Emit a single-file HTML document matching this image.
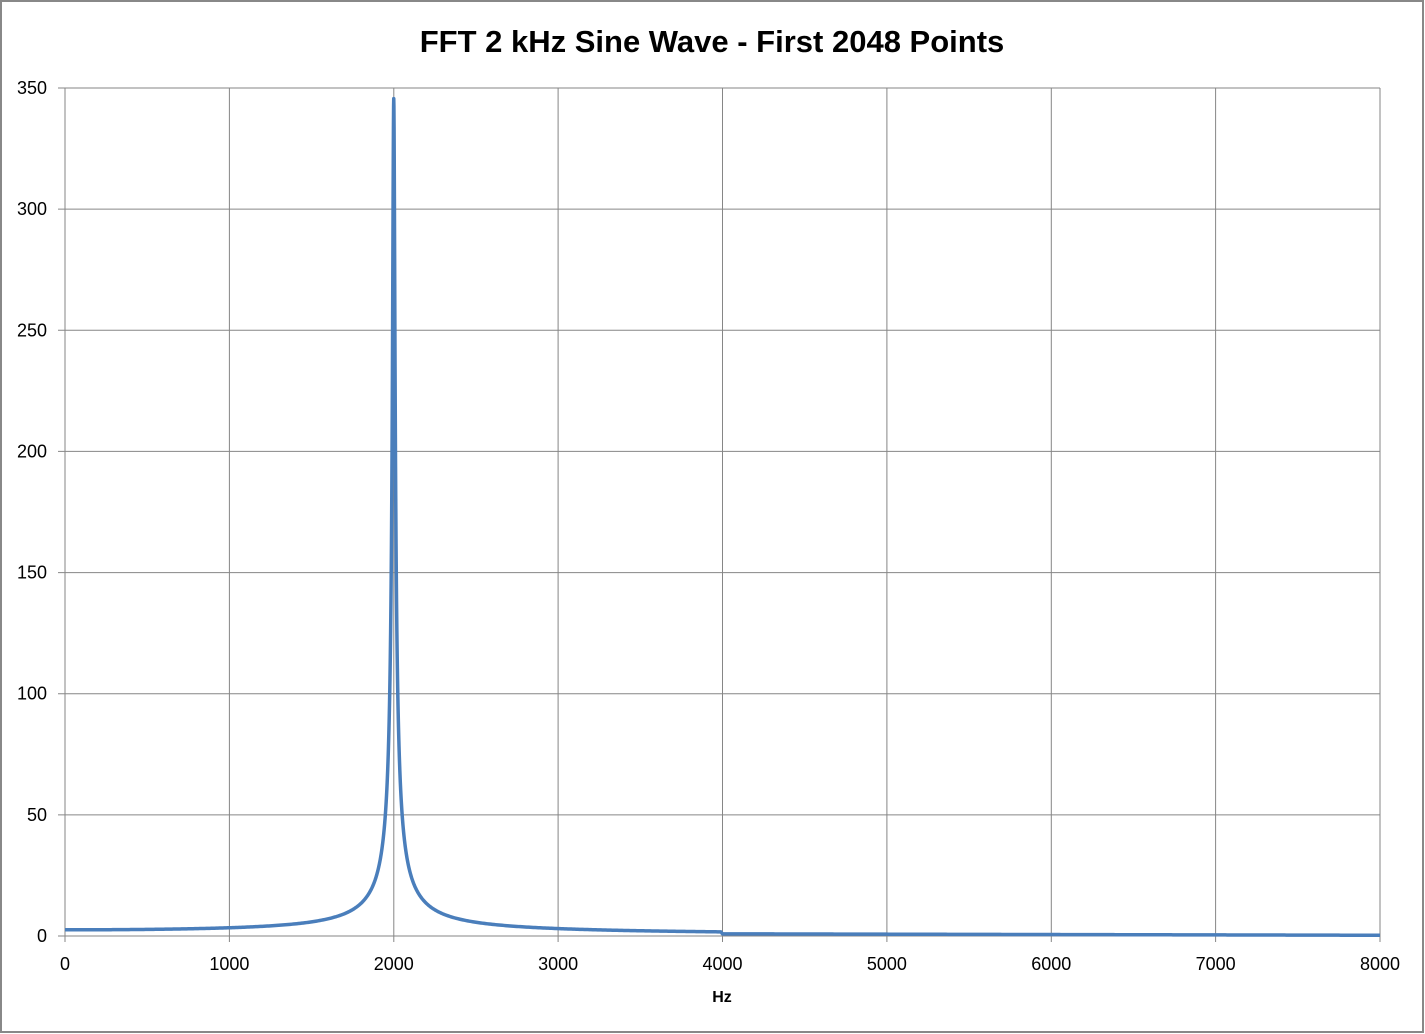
<!DOCTYPE html>
<html><head><meta charset="utf-8"><style>
body{margin:0;background:#fff;}
svg{display:block;font-family:"Liberation Sans",Calibri,sans-serif;}
</style></head><body>
<svg id="s" width="1425" height="1034" viewBox="0 0 1425 1034">
<rect x="1" y="1" width="1422" height="1031" fill="#fff" stroke="#888" stroke-width="2"/>
<text x="712" y="52" text-anchor="middle" font-size="31" font-weight="bold" fill="#000">FFT 2 kHz Sine Wave - First 2048 Points</text>
<g id="grid" stroke="#868686" stroke-width="1"></g>
<g id="lab" font-size="18" fill="#000"></g>
<text x="722" y="1002" text-anchor="middle" font-size="16" font-weight="bold">Hz</text>
<path id="curve" fill="none" stroke="#4a7ebb" stroke-width="3.5" stroke-linejoin="round"/>
</svg>
<script>
var X0=65,X1=1380,Y0=936,Y1=88;
function px(f){return X0+(X1-X0)*f/8000;}
function py(v){return Y0-(Y0-Y1)*v/350;}
var g=document.getElementById('grid'),l=document.getElementById('lab'),h='',t='';
for(var i=0;i<=8;i++){var x=px(i*1000).toFixed(1);h+='<line x1="'+x+'" y1="'+Y1+'" x2="'+x+'" y2="'+(Y0+6)+'"/>';
t+='<text x="'+x+'" y="970" text-anchor="middle">'+(i*1000)+'</text>';}
for(var j=0;j<=7;j++){var y=py(j*50).toFixed(1);h+='<line x1="'+(X0-7)+'" y1="'+y+'" x2="'+X1+'" y2="'+y+'"/>';
t+='<text x="47" y="'+(+y+6)+'" text-anchor="end">'+(j*50)+'</text>';}
g.innerHTML=h;l.innerHTML=t;
var P=345,w=7.4,d='';
for(var f=0;f<=8000;f+=(Math.abs(f-2000)<150?1:10)){
var v;
if(f<4000){var a=f-2000;v=P/Math.sqrt(1+(a/w)*(a/w))+P*w/(f+2000);}
else{v=0.9-0.6*(f-4000)/4000;}
d+=(d?'L':'M')+px(f).toFixed(2)+','+py(v).toFixed(2);}
document.getElementById('curve').setAttribute('d',d);
</script>
</body></html>
